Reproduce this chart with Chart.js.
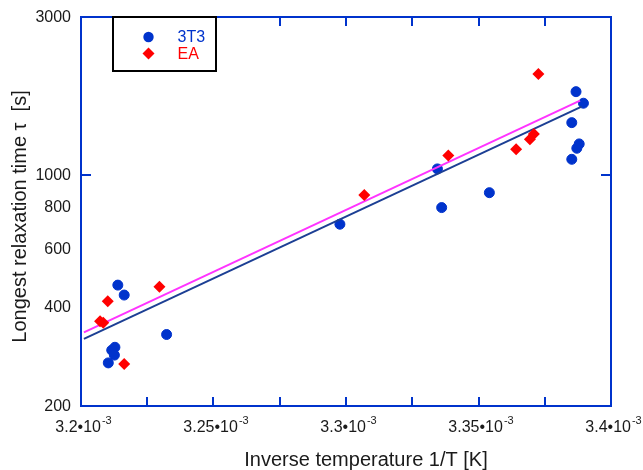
<!DOCTYPE html>
<html>
<head>
<meta charset="utf-8">
<script src="https://cdn.jsdelivr.net/npm/chart.js@4/dist/chart.umd.min.js"></script>
<style>
  body { margin: 0; background: #fff; }
  #wrap { width: 643px; height: 470px; }
</style>
</head>
<body>
<div id="wrap"><canvas id="chart"></canvas></div>
<script>
// inverse temperature 1/T [1/K] and longest relaxation time [s]
const blueX = [0.0032139, 0.0032163, 0.0032323, 0.0032116, 0.0032128, 0.0032126, 0.0032103,
  0.0032977, 0.0033345, 0.0033361, 0.0033541,
  0.0033868, 0.0033896, 0.0033852, 0.0033880, 0.0033871, 0.0033852];
const blueY = [464, 433, 329, 295, 301, 285, 270,
  709, 1042, 796, 883,
  1784, 1646, 1438, 1240, 1203, 1114];

const redX = [0.0032072, 0.0032084, 0.0032101, 0.0032163, 0.0032296,
  0.0033069, 0.0033386, 0.0033642, 0.0033694, 0.0033709, 0.0033726];
const redY = [361, 357, 415, 268, 459, 869, 1143, 1195, 1281, 1329, 2018];

// fitted lines (end points)
const fitBlueX = [0.0032011, 0.0033889];
const fitBlueY = [319, 1607];
const fitPinkX = [0.0032011, 0.0033883];
const fitPinkY = [334, 1676];

// axes
const xTickMarks = [0.0032, 0.003225, 0.00325, 0.003275, 0.0033, 0.003325, 0.00335, 0.003375, 0.0034];
const xLabelValues = [0.0032, 0.00325, 0.0033, 0.00335, 0.0034];
const xLabelText = ['3.2', '3.25', '3.3', '3.35', '3.4'];
const yLabelValues = [200, 400, 600, 800, 1000, 3000];
const yTickMarks = [1000];

const seriesNames = ['3T3', 'EA'];

const axisColor = '#0033cc';
const blueColor = '#0033cc';
const redColor = '#ff0000';
const textColor = '#1a1a1a';
const fontFamily = '"Liberation Sans", Arial, sans-serif';

function toPoints(xs, ys) {
  return xs.map((x, i) => ({ x: x, y: ys[i] }));
}

const framePlugin = {
  id: 'frame',
  afterDatasetsDraw(chart) {
    const { ctx, chartArea: a } = chart;
    const xs = chart.scales.x, ys = chart.scales.y;
    ctx.save();

    // frame and inward ticks
    ctx.strokeStyle = axisColor;
    ctx.lineWidth = 2;
    ctx.strokeRect(a.left, a.top, a.right - a.left, a.bottom - a.top);
    ctx.beginPath();
    xTickMarks.forEach(v => {
      const px = Math.round(xs.getPixelForValue(v));
      ctx.moveTo(px, a.bottom); ctx.lineTo(px, a.bottom - 9);
      ctx.moveTo(px, a.top); ctx.lineTo(px, a.top + 9);
    });
    yTickMarks.forEach(v => {
      const py = Math.round(ys.getPixelForValue(v));
      ctx.moveTo(a.left, py); ctx.lineTo(a.left + 10, py);
      ctx.moveTo(a.right, py); ctx.lineTo(a.right - 10, py);
    });
    ctx.stroke();

    // y tick labels
    ctx.fillStyle = textColor;
    ctx.font = '16px ' + fontFamily;
    ctx.textAlign = 'right';
    ctx.textBaseline = 'middle';
    yLabelValues.forEach(v => {
      ctx.fillText(String(v), a.left - 10, ys.getPixelForValue(v) + 1);
    });

    // x tick labels with exponent
    ctx.textAlign = 'left';
    ctx.textBaseline = 'alphabetic';
    xLabelValues.forEach((v, i) => {
      const main = xLabelText[i] + '\u202210';
      const sup = '-3';
      ctx.font = '16px ' + fontFamily;
      const wMain = ctx.measureText(main).width;
      ctx.font = '11px ' + fontFamily;
      const wSup = ctx.measureText(sup).width;
      const x0 = xs.getPixelForValue(v) - (wMain + wSup) / 2 + 2;
      ctx.font = '16px ' + fontFamily;
      ctx.fillText(main, x0, a.bottom + 26);
      ctx.font = '11px ' + fontFamily;
      ctx.fillText(sup, x0 + wMain + 1, a.bottom + 18);
    });

    // axis titles
    ctx.font = '20px ' + fontFamily;
    ctx.textAlign = 'center';
    ctx.fillText('Inverse temperature 1/T [K]', 366, 466);
    ctx.save();
    ctx.translate(25.5, (a.top + a.bottom) / 2 + 5);
    ctx.rotate(-Math.PI / 2);
    ctx.fillText('Longest relaxation time \u03c4  [s]', 0, 0);
    ctx.restore();

    // legend box
    ctx.fillStyle = '#fff';
    ctx.fillRect(113, 17, 103, 54);
    ctx.strokeStyle = '#000';
    ctx.lineWidth = 2;
    ctx.strokeRect(113, 17, 103, 54);
    ctx.fillStyle = blueColor;
    ctx.beginPath();
    ctx.arc(148.5, 37, 5.2, 0, Math.PI * 2);
    ctx.fill();
    ctx.fillStyle = redColor;
    ctx.beginPath();
    ctx.moveTo(148.5, 47.5); ctx.lineTo(154.5, 53.5); ctx.lineTo(148.5, 59.5); ctx.lineTo(142.5, 53.5);
    ctx.closePath();
    ctx.fill();
    ctx.font = '16px ' + fontFamily;
    ctx.textAlign = 'left';
    ctx.textBaseline = 'middle';
    ctx.fillStyle = blueColor;
    ctx.fillText(seriesNames[0], 177.5, 38);
    ctx.fillStyle = redColor;
    ctx.fillText(seriesNames[1], 177.5, 55);

    ctx.restore();
  }
};

new Chart(document.getElementById('chart'), {
  type: 'scatter',
  data: {
    datasets: [
      {
        label: seriesNames[1],
        data: toPoints(redX, redY),
        pointStyle: 'rectRot',
        pointRadius: 6,
        borderWidth: 0,
        backgroundColor: redColor,
        borderColor: redColor
      },
      {
        label: 'fit EA',
        data: toPoints(fitPinkX, fitPinkY),
        showLine: true,
        pointRadius: 0,
        borderColor: '#ff33ff',
        borderWidth: 2
      },
      {
        label: 'fit 3T3',
        data: toPoints(fitBlueX, fitBlueY),
        showLine: true,
        pointRadius: 0,
        borderColor: '#1c3f94',
        borderWidth: 2
      },
      {
        label: seriesNames[0],
        data: toPoints(blueX, blueY),
        pointStyle: 'circle',
        pointRadius: 5,
        borderWidth: 1,
        backgroundColor: blueColor,
        borderColor: blueColor
      }
    ]
  },
  options: {
    responsive: true,
    maintainAspectRatio: false,
    animation: false,
    layout: { padding: { left: 81, top: 17, right: 32, bottom: 64 } },
    plugins: {
      legend: { display: false },
      tooltip: { enabled: false }
    },
    scales: {
      x: { type: 'linear', min: 0.0032, max: 0.0034, display: false },
      y: { type: 'logarithmic', min: 200, max: 3000, display: false }
    }
  },
  plugins: [framePlugin]
});
</script>
</body>
</html>
